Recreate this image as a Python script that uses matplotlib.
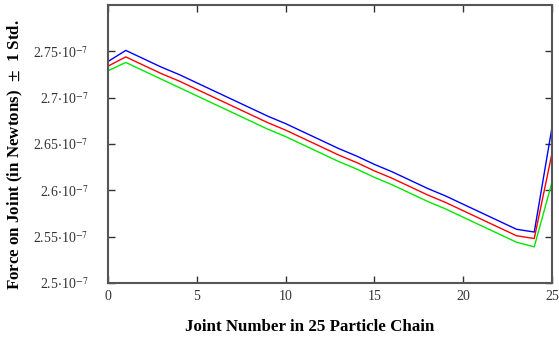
import matplotlib
matplotlib.use("Agg")
import matplotlib.pyplot as plt
import numpy as np

plt.rcParams["font.family"] = ["Liberation Serif", "DejaVu Serif"]
plt.rcParams["mathtext.fontset"] = "stix"

joints = np.arange(26)

# force values in units of 1e-7 N
upper = [2.739, 2.751, 2.742, 2.733, 2.725, 2.716, 2.707, 2.698, 2.689, 2.680,
         2.672, 2.663, 2.654, 2.645, 2.637, 2.628, 2.620, 2.611, 2.602, 2.594,
         2.585, 2.576, 2.567, 2.558, 2.555, 2.668]
mean = [2.734, 2.744, 2.735, 2.726, 2.718, 2.709, 2.700, 2.691, 2.682, 2.673,
        2.665, 2.656, 2.647, 2.638, 2.630, 2.621, 2.613, 2.604, 2.595, 2.587,
        2.578, 2.569, 2.560, 2.551, 2.548, 2.640]
lower = [2.729, 2.738, 2.729, 2.720, 2.711, 2.702, 2.693, 2.684, 2.675, 2.666,
         2.658, 2.649, 2.640, 2.631, 2.623, 2.614, 2.606, 2.597, 2.588, 2.580,
         2.571, 2.562, 2.553, 2.544, 2.539, 2.609]

yticks = [2.5, 2.55, 2.6, 2.65, 2.7, 2.75]
xticks = [0, 5, 10, 15, 20, 25]

fig = plt.figure(figsize=(5.59, 3.43), dpi=100)
ax = fig.add_axes([0.1932, 0.1749, 0.7943, 0.8105])

scale = 1e-7
ax.plot(joints, np.array(upper) * scale, color="#0000ff", lw=1)
ax.plot(joints, np.array(mean) * scale, color="#ff0000", lw=1)
ax.plot(joints, np.array(lower) * scale, color="#00e800", lw=1)

ax.set_xlim(0, 25)
ax.set_ylim(2.5e-7, 2.8e-7)
ax.set_xticks(xticks)
ax.set_xticklabels([str(t) for t in xticks])
ax.set_yticks([t * scale for t in yticks])
ax.set_yticklabels([f"{t:g}$\\cdot$10$^{{-7}}$" for t in yticks])

ax.tick_params(direction="in", length=5, width=1, top=True, right=True,
               labelsize=10, colors="#333333")
ax.tick_params(axis="y", pad=14)
ax.tick_params(axis="x", pad=5)
for s in ax.spines.values():
    s.set_color("#555555")
    s.set_linewidth(1.5)

ax.set_xlabel("Joint Number in 25 Particle Chain", fontsize=12.2,
              fontweight="bold")
ax.set_ylabel("Force on Joint (in Newtons)  $\\pm$  1 Std.", fontsize=12.2,
              fontweight="bold")
ax.xaxis.set_label_coords(0.455, -0.13)
ax.yaxis.set_label_coords(-0.188, 0.46)

fig.savefig("out.png", dpi=100)
